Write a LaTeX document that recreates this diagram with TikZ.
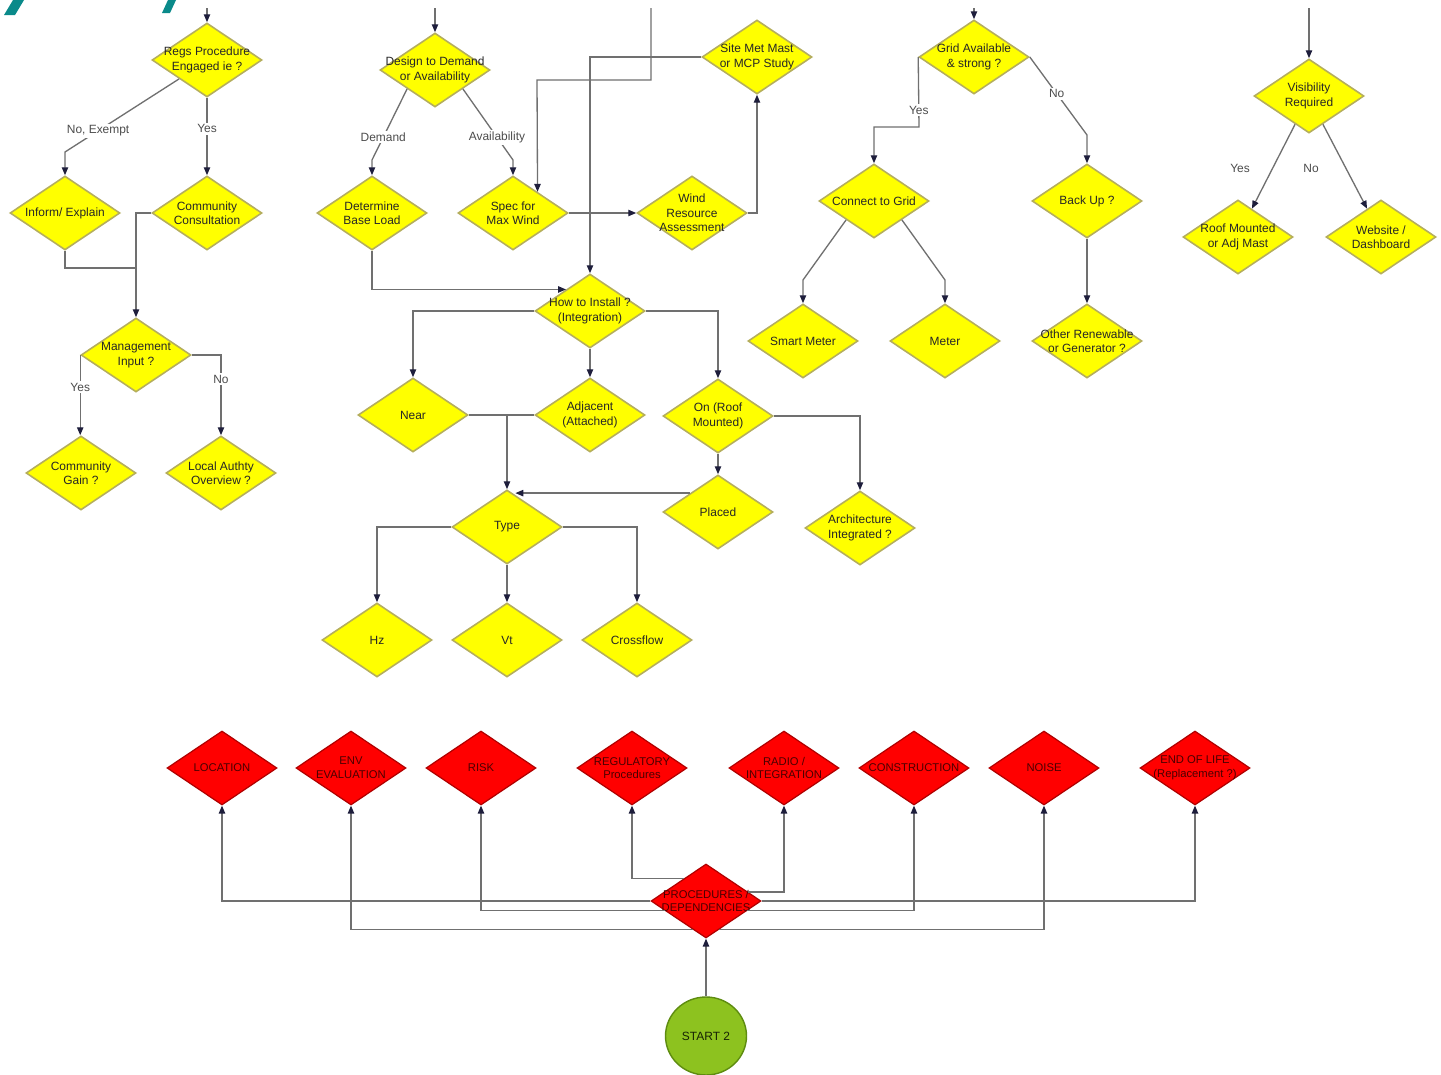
\documentclass[tikz,border=0pt]{standalone}
\usepackage{fontspec}
\setmainfont{Liberation Sans}
\usetikzlibrary{shapes.geometric,arrows.meta,calc}
\definecolor{yfill}{HTML}{FFFF00}
\definecolor{ydraw}{HTML}{B5AE5C}
\definecolor{rfill}{HTML}{FF0000}
\definecolor{rdraw}{HTML}{B00000}
\definecolor{rtext}{HTML}{4A0000}
\definecolor{gfill}{HTML}{8DC21F}
\definecolor{gdraw}{HTML}{5E8C10}
\definecolor{linec}{HTML}{707070}
\definecolor{tipc}{HTML}{1E1E3C}
\definecolor{tealc}{HTML}{0A8A8A}
\begin{document}
\begin{tikzpicture}[x=0.02cm,y=-0.02cm,
  font=\fontsize{6.8}{8.2}\selectfont,
  ydia/.style={diamond, draw=ydraw, fill=yfill, line width=0.9pt,
    minimum width=2.2cm, minimum height=1.48cm, inner sep=0pt},
  rdia/.style={diamond, draw=rdraw, fill=rfill, line width=0.7pt,
    minimum width=2.2cm, minimum height=1.48cm, inner sep=0pt},
  dtext/.style={align=center, text=black!85, inner sep=0pt},
  rtxt/.style={align=center, text=rtext, inner sep=0pt, font=\fontsize{6.4}{7.8}\selectfont},
  conn/.style={draw=linec, line width=0.75pt},
  arr/.style={conn, -{Triangle[length=4.5pt,width=3.6pt,color=tipc]}},
  lbl/.style={fill=white, text=black!70, inner sep=1pt}
]
\fill[white] (0,0) rectangle (1441,1075);
\useasboundingbox (0,0) rectangle (1441,1075);

% teal fragments of a cut-off title
\fill[tealc] (13,0) -- (24,0) -- (15,15) -- (4,15) -- cycle;
\fill[tealc] (168,0) -- (176,0) -- (170,13) -- (162,13) -- cycle;

% ---------- column 1 ----------
\node[ydia, label={[dtext]center:Regs Procedure\\Engaged ie ?}] (regs) at (207,60) {};
\node[ydia, label={[dtext]center:Inform/ Explain}] (inform) at (65,213) {};
\node[ydia, label={[dtext]center:Community\\Consultation}] (commcons) at (207,213) {};
\node[ydia, label={[dtext]center:Management\\Input ?}] (mgmt) at (136,355) {};
\node[ydia, label={[dtext]center:Community\\Gain ?}] (commgain) at (81,473) {};
\node[ydia, label={[dtext]center:Local Authty\\Overview ?}] (localauth) at (221,473) {};

% ---------- column 2 ----------
\node[ydia, label={[dtext]center:Design to Demand\\or Availability}] (design) at (435,70) {};
\node[ydia, label={[dtext]center:Determine\\Base Load}] (baseload) at (372,213) {};
\node[ydia, label={[dtext]center:Spec for\\Max Wind}] (specwind) at (513,213) {};
\node[ydia, label={[dtext]center:Wind\\Resource\\Assessment}] (windres) at (692,213) {};
\node[ydia, label={[dtext]center:Site Met Mast\\or MCP Study}] (sitemet) at (757,57) {};
\node[ydia, label={[dtext]center:How to Install ?\\(Integration)}] (howto) at (590,311) {};
\node[ydia, label={[dtext]center:Near}] (near) at (413,415) {};
\node[ydia, label={[dtext]center:Adjacent\\(Attached)}] (adjacent) at (590,415) {};
\node[ydia, label={[dtext]center:On (Roof\\Mounted)}] (onroof) at (718,416) {};
\node[ydia, label={[dtext]center:Placed}] (placed) at (718,512) {};
\node[ydia, label={[dtext]center:Architecture\\Integrated ?}] (archint) at (860,528) {};
\node[ydia, label={[dtext]center:Type}] (type) at (507,527) {};
\node[ydia, label={[dtext]center:Hz}] (hz) at (377,640) {};
\node[ydia, label={[dtext]center:Vt}] (vt) at (507,640) {};
\node[ydia, label={[dtext]center:Crossflow}] (crossflow) at (637,640) {};

% ---------- column 3 ----------
\node[ydia, label={[dtext]center:Grid Available\\\& strong ?}] (grid) at (974,57) {};
\node[ydia, label={[dtext]center:Connect to Grid}] (connect) at (874,201) {};
\node[ydia, label={[dtext]center:Back Up ?}] (backup) at (1087,201) {};
\node[ydia, label={[dtext]center:Smart Meter}] (smart) at (803,341) {};
\node[ydia, label={[dtext]center:Meter}] (meter) at (945,341) {};
\node[ydia, label={[dtext]center:Other Renewable\\or Generator ?}] (other) at (1087,341) {};

% ---------- column 4 ----------
\node[ydia, label={[dtext]center:Visibility\\Required}] (vis) at (1309,96) {};
\node[ydia, label={[dtext]center:Roof Mounted\\or Adj Mast}] (roofmast) at (1238,237) {};
\node[ydia, label={[dtext]center:Website /\\Dashboard}] (website) at (1381,237) {};

% ---------- bottom ----------
\node[rdia, label={[rtxt]center:LOCATION}] (loc) at (222,768) {};
\node[rdia, label={[rtxt]center:ENV\\EVALUATION}] (env) at (351,768) {};
\node[rdia, label={[rtxt]center:RISK}] (risk) at (481,768) {};
\node[rdia, label={[rtxt]center:REGULATORY\\Procedures}] (reg) at (632,768) {};
\node[rdia, label={[rtxt]center:RADIO /\\INTEGRATION}] (radio) at (784,768) {};
\node[rdia, label={[rtxt]center:CONSTRUCTION}] (constr) at (914,768) {};
\node[rdia, label={[rtxt]center:NOISE}] (noise) at (1044,768) {};
\node[rdia, label={[rtxt]center:END OF LIFE\\(Replacement ?)}] (eol) at (1195,768) {};
\node[rdia, label={[rtxt]center:PROCEDURES /\\DEPENDENCIES}] (proc) at (706,901) {};
\node[ellipse, draw=gdraw, fill=gfill, line width=0.8pt, minimum width=1.62cm,
  minimum height=1.56cm, inner sep=0pt, text=black!75!gdraw] (start) at (706,1036) {START 2};

% ---------- incoming lines from above ----------
\coordinate (inA) at (207,8);
\coordinate (inB) at (435,8);
\coordinate (inC) at (651,8);
\coordinate (inD) at (974,8);
\coordinate (inE) at (1309,8);
\draw[arr] (inA) -- (regs.north);
\draw[arr] (inB) -- (design.north);
\draw[arr] (inD) -- (grid.north);
\draw[arr] (inE) -- (vis.north);
\draw[arr] (inC) -- (651,80) -- (537,80) -- ($(specwind.north)!0.44!(specwind.east)$);

% ---------- column 1 connectors ----------
\draw[arr] (regs.south west) -- node[lbl,pos=0.71]{No, Exempt} (65,152) -- (inform.north);
\draw[arr] (regs.south) -- node[lbl,pos=0.4]{Yes} (commcons.north);
\draw[conn] (inform.south) -- (65,268) -- (136,268);
\draw[arr] (commcons.west) -- (136,213) -- (mgmt.north);
\draw[arr] (mgmt.west) -- node[lbl,pos=0.4]{Yes} (mgmt.west |- commgain.north);
\draw[arr] (mgmt.east) -| node[lbl,pos=0.65]{No} (localauth.north);

% ---------- column 2 connectors ----------
\draw[arr] (design.south west) -- node[lbl,pos=0.68]{Demand} (372,160) -- (baseload.north);
\draw[arr] (design.south east) -- node[lbl,pos=0.68]{Availability} (513,160) -- (specwind.north);
\draw[arr] (specwind.east) -- (windres.west);
\draw[arr] (windres.east) -| (sitemet.south);
\draw[arr] (sitemet.west) -| (howto.north);
\draw[arr] (baseload.south) |- ($(howto.north)!0.43!(howto.west)$);
\draw[arr] (howto.west) -| (near.north);
\draw[arr] (howto.south) -- (adjacent.north);
\draw[arr] (howto.east) -| (onroof.north);
\draw[conn] (near.east) -- (adjacent.west);
\draw[arr] (near.east -| type.north) -- (type.north);
\draw[arr] (onroof.south) -- (placed.north);
\draw[arr] (onroof.east) -| (archint.north);
\coordinate (typein) at ($(type.north)!0.15!(type.east)$);
\coordinate (placedout) at ($(placed.north)!0.5!(placed.west)$);
\draw[arr] (placedout) -- (placedout -| typein);
\draw[arr] (type.west) -| (hz.north);
\draw[arr] (type.south) -- (vt.north);
\draw[arr] (type.east) -| (crossflow.north);

% ---------- column 3 connectors ----------
\draw[arr] (grid.west) -- node[lbl,pos=0.76]{Yes} (919,127) -| (connect.north);
\draw[arr] (grid.east) -- node[lbl,pos=0.47]{No} (1087,135) -- (backup.north);
\draw[arr] (connect.south west) -- (803,280) -- (smart.north);
\draw[arr] (connect.south east) -- (945,280) -- (meter.north);
\draw[arr] (backup.south) -- (other.north);

% ---------- column 4 connectors ----------
\draw[arr] ($(vis.south)!0.25!(vis.west)$) -- ($(roofmast.north)!0.25!(roofmast.east)$);
\draw[arr] ($(vis.south)!0.25!(vis.east)$) -- ($(website.north)!0.25!(website.west)$);
\node[lbl] (lyes4) at (1240,168) {Yes};
\node[lbl] (lno4) at (1311,168) {No};

% ---------- bottom connectors ----------
\draw[arr] (start.north) -- (proc.south);
\draw[arr] (proc.west) -| (loc.south);
\draw[arr] (proc.east) -| (eol.south);
\draw[arr] ($(proc.west)!0.26!(proc.south)$) -| (risk.south);
\draw[arr] ($(proc.east)!0.26!(proc.south)$) -| (constr.south);
\draw[arr] ($(proc.west)!0.76!(proc.south)$) -| (env.south);
\draw[arr] ($(proc.east)!0.76!(proc.south)$) -| (noise.south);
\draw[arr] ($(proc.west)!0.6!(proc.north)$) -| (reg.south);
\draw[arr] ($(proc.east)!0.24!(proc.north)$) -| (radio.south);
\end{tikzpicture}
\end{document}
